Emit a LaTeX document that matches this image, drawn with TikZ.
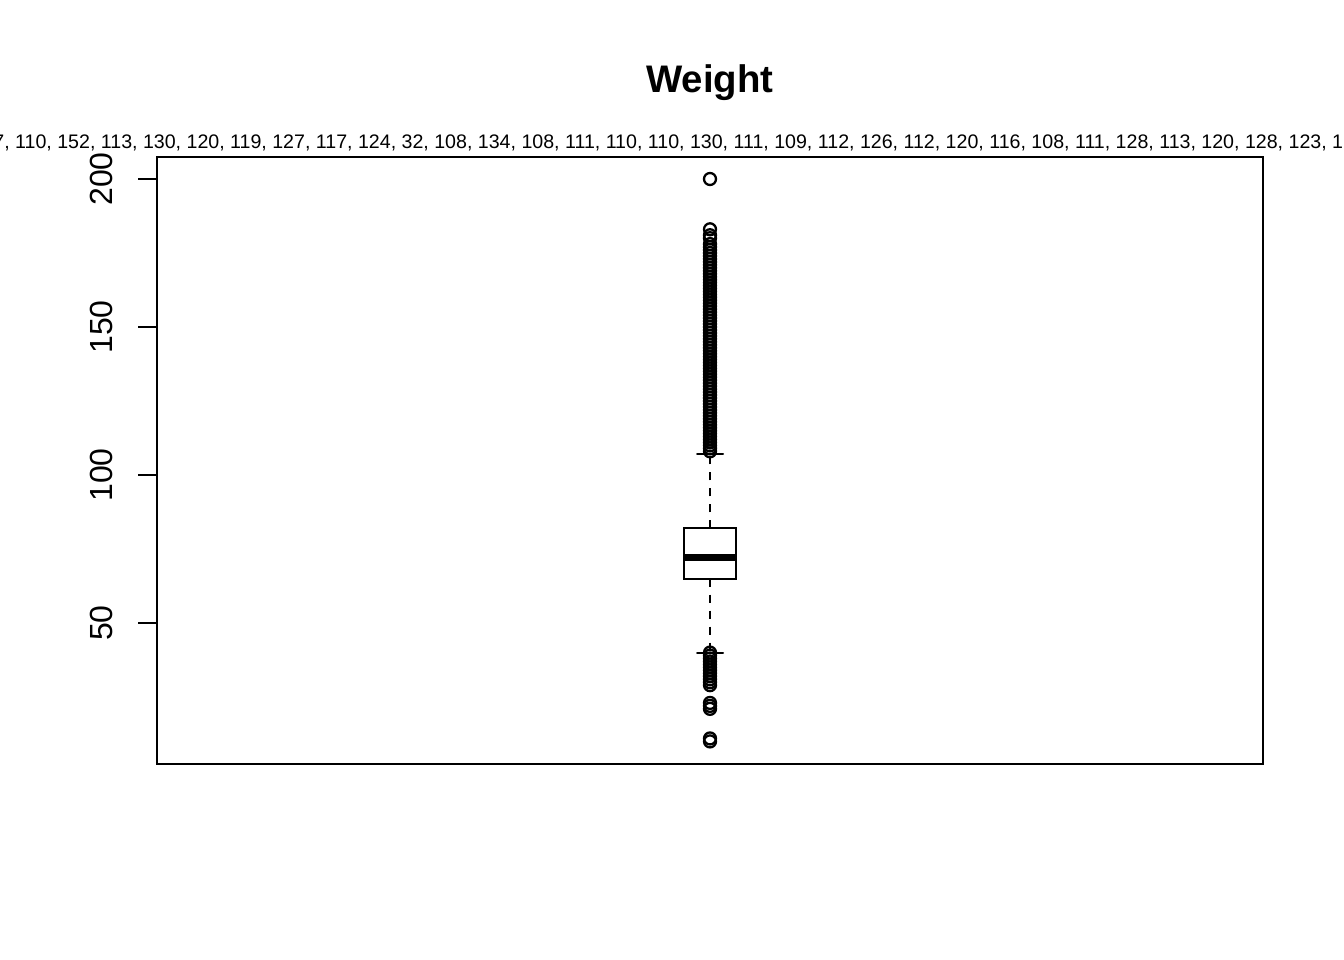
\documentclass[tikz,border=0pt]{standalone}
\usepackage{fontspec}
\setmainfont{Liberation Sans}
\tikzset{
  frameline/.style={line width=2pt, line cap=round},
  tickline/.style={line width=2pt},
  ticklabel/.style={rotate=90, anchor=base, inner sep=0pt, font=\fontsize{32}{38}\selectfont},
  titletext/.style={anchor=base, inner sep=0pt, font=\fontsize{38.4}{46}\selectfont\bfseries},
  toptext/.style={anchor=base west, inner sep=0pt, font=\fontsize{19.6}{23}\selectfont},
  boxshape/.style={draw, line width=2pt, fill=white},
  medianline/.style={line width=6.5pt},
  whisker/.style={line width=2pt, dash pattern=on 8pt off 8pt},
  capline/.style={line width=2pt, line cap=round},
  outl/.style={circle, draw, line width=2.3pt, minimum size=12pt, inner sep=0pt},
}
\begin{document}
\begin{tikzpicture}[x=1pt, y=-1pt]
\useasboundingbox (0,0) rectangle (1344,960);
\fill[white] (0,0) rectangle (1344,960);
\clip (0,0) rectangle (1344,960);

% title and top text
\node[titletext] (title) at (710,93) {Weight};
\node[toptext] (top) at (-6.8,149) {7, 110, 152, 113, 130, 120, 119, 127, 117, 124, 32, 108, 134, 108, 111, 110, 110, 130, 111, 109, 112, 126, 112, 120, 116, 108, 111, 128, 113, 120, 128, 123, 1};

% plot frame
\draw[frameline] (157,157) rectangle (1263,764);

% y axis ticks and labels
\foreach \v in {50,100,150,200} {
  \coordinate (t\v) at (157,{771-2.96*\v});
  \coordinate (s\v) at (138,{771-2.96*\v});
  \draw[tickline] (s\v) -- (t\v);
  \node[ticklabel] (l\v) at (112,{771-2.96*\v}) {\v};
}

% whiskers
\coordinate (boxtop) at (710,{771-2.96*82});
\coordinate (boxbot) at (710,{771-2.96*65});
\coordinate (wtop) at (710,{771-2.96*107});
\coordinate (wbot) at (710,{771-2.96*40});
\draw[whisker] (boxtop) -- (wtop);
\draw[whisker] (boxbot) -- (wbot);
\draw[capline] (697,{771-2.96*107}) -- (723,{771-2.96*107});
\draw[capline] (697,{771-2.96*40}) -- (723,{771-2.96*40});

% box
\draw[boxshape] (684,{771-2.96*82}) rectangle (736,{771-2.96*65});
\draw[medianline] (684,{771-2.96*72.2}) -- (736,{771-2.96*72.2});

% outliers
\foreach \v in {10,11,21,22,23,29,30,31,32,33,34,35,36,37,38,39,40} {
  \node[outl] (lo\v) at (710,{771-2.96*\v}) {};
}
\foreach \v in {108,...,172} {
  \node[outl] (hi\v) at (710,{771-2.96*\v}) {};
}
\foreach \v in {173,174,175,176,177,178,180,181,183,200} {
  \node[outl] (hi\v) at (710,{771-2.96*\v}) {};
}
\end{tikzpicture}
\end{document}
